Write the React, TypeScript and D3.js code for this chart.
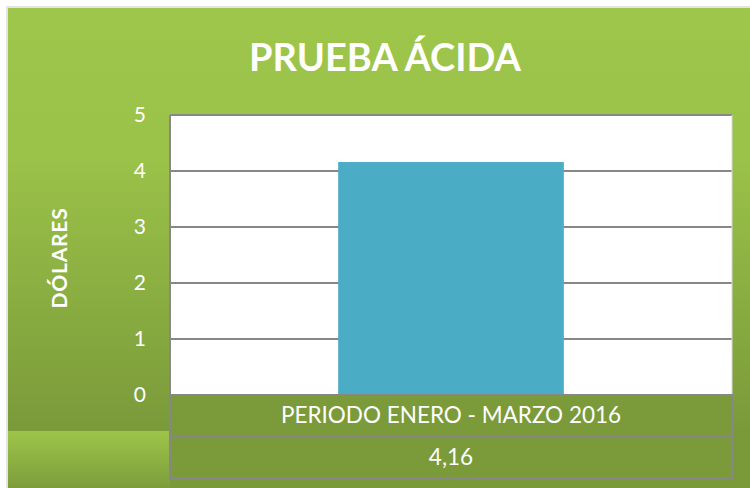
import React from 'react';
import * as d3 from 'd3';

const categories = ['PERIODO ENERO - MARZO 2016'];
const values = [4.16];
const valueLabels = ['4,16'];
const yTicks = [0, 1, 2, 3, 4, 5];

const W = 750;
const H = 488;
const plot = { left: 170, right: 732, top: 115, bottom: 395 };
const rowH = 42;
const font = 'Lato, "Open Sans", sans-serif';

export default function App() {
  const x = d3.scaleBand<string>()
    .domain(categories)
    .range([plot.left, plot.right])
    .padding(0.427);

  const y = d3.scaleLinear()
    .domain([0, 5])
    .range([plot.bottom, plot.top]);

  return (
    <svg width={W} height={H} style={{ position: 'absolute', left: 0, top: 0 }}>
      <defs>
        <linearGradient id="bg" gradientUnits="userSpaceOnUse" x1="0" y1="8" x2="0" y2="431">
          <stop offset="0" stopColor="#9ec64b" />
          <stop offset="0.35" stopColor="#9bc249" />
          <stop offset="1" stopColor="#7a9a3a" />
        </linearGradient>
        <linearGradient id="corner" x1="0" y1="0" x2="0" y2="1">
          <stop offset="0" stopColor="#9dc54a" />
          <stop offset="1" stopColor="#7d9d3b" />
        </linearGradient>
      </defs>
      <rect x={0} y={0} width={W} height={H} fill="#ffffff" />
      <rect x={6} y={6} width={W - 6} height={H - 6} fill="#e4e4e4" />
      <rect x={8} y={8} width={W - 8} height={H - 8} fill="url(#bg)" />
      <rect x={8} y={431} width={plot.left - 8} height={H - 431} fill="url(#corner)" />

      {/* title */}
      <text x={385} y={71} textAnchor="middle" fill="#fff" fontFamily={font}
        fontWeight="bold" fontSize={38}>PRUEBA ÁCIDA</text>

      {/* plot area */}
      <rect x={plot.left} y={plot.top} width={plot.right - plot.left}
        height={plot.bottom - plot.top} fill="#fff" />
      {yTicks.map(t => (
        <g key={t}>
          <line x1={plot.left} x2={plot.right} y1={y(t)} y2={y(t)}
            stroke="#878787" strokeWidth={2} />
          <text x={146} y={y(t) + 7} textAnchor="end" fill="#fff"
            fontFamily={font} fontSize={21}>{t}</text>
        </g>
      ))}
      <line x1={plot.left} x2={plot.left} y1={plot.top} y2={plot.bottom}
        stroke="#878787" strokeWidth={2} />
      <line x1={plot.right} x2={plot.right} y1={plot.top} y2={plot.bottom}
        stroke="#d9d9d9" strokeWidth={1} />

      {categories.map((c, i) => (
        <rect key={c} x={x(c)} y={y(values[i])} width={x.bandwidth()}
          height={y(0) - y(values[i])} fill="#4bacc6" />
      ))}

      {/* axis title */}
      <text transform={`translate(67,258) rotate(-90)`} textAnchor="middle" fill="#fff"
        fontFamily={font} fontWeight="bold" fontSize={21} letterSpacing={0.8}>DÓLARES</text>

      {/* data table */}
      {[0, 1].map(r => (
        <rect key={r} x={plot.left} y={plot.bottom + r * rowH} width={plot.right - plot.left}
          height={rowH} fill="#7b9b3a" stroke="#878787" strokeWidth={2} />
      ))}
      {categories.map((c, i) => (
        <g key={c}>
          <text x={(x(c) ?? 0) + x.bandwidth() / 2} y={plot.bottom + 28} textAnchor="middle"
            fill="#fff" fontFamily={font} fontSize={22.5}>{c}</text>
          <text x={(x(c) ?? 0) + x.bandwidth() / 2} y={plot.bottom + rowH + 28} textAnchor="middle"
            fill="#fff" fontFamily={font} fontSize={22.5}>{valueLabels[i]}</text>
        </g>
      ))}
    </svg>
  );
}
